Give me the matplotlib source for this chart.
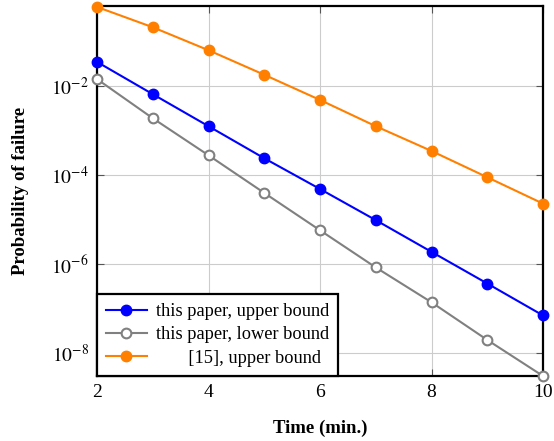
import numpy as np
import matplotlib
matplotlib.use('Agg')
import matplotlib.pyplot as plt

plt.rcParams['font.family'] = ['Liberation Serif', 'DejaVu Serif']
plt.rcParams['mathtext.fontset'] = 'stix'

# 데이터
time_min = [2, 3, 4, 5, 6, 7, 8, 9, 10]
upper_ours = [3.5e-2, 6.6e-3, 1.26e-3, 2.4e-4, 4.9e-5, 9.8e-6, 1.9e-6, 3.7e-7, 7.1e-8]
lower_ours = [1.44e-2, 1.9e-3, 2.8e-4, 4.0e-5, 5.8e-6, 8.5e-7, 1.4e-7, 2.0e-8, 3.1e-9]
upper_ref = [0.6, 0.21, 0.064, 0.018, 4.9e-3, 1.26e-3, 3.5e-4, 9.0e-5, 2.3e-5]

labels = ['this paper, upper bound', 'this paper, lower bound', '       [15], upper bound']

fig = plt.figure(figsize=(5.54, 4.41), dpi=100)
ax = fig.add_axes([97 / 554, 1 - 376 / 441, (543 - 97) / 554, (376 - 6) / 441])

ax.plot(time_min, upper_ours, color='#0000ff', lw=1.5, marker='o', ms=7.5,
        label=labels[0], clip_on=False, zorder=3)
ax.plot(time_min, lower_ours, color='#808080', lw=1.5, marker='o', ms=7,
        mfc='white', mew=1.5, label=labels[1], clip_on=False, zorder=3)
ax.plot(time_min, upper_ref, color='#ff8000', lw=1.5, marker='o', ms=7.5,
        label=labels[2], clip_on=False, zorder=3)

ax.set_yscale('log')
ax.set_xlim(2, 10)
ax.set_ylim(3.1e-9, 0.63)
ax.set_xticks([2, 4, 6, 8, 10])
ax.set_yticks([1e-2, 1e-4, 1e-6, 1e-8])
ax.yaxis.set_minor_locator(matplotlib.ticker.NullLocator())
ax.set_yticklabels([r'$10^{-2}$', r'$10^{-4}$', r'$10^{-6}$', r'$10^{-8}$'])
ax.tick_params(direction='in', top=True, right=True, labelsize=14, length=5,
               color='#555555', pad=6)
ax.grid(True, color='#cccccc', lw=0.8)
for s in ax.spines.values():
    s.set_linewidth(1.6)

ax.set_xlabel('Time (min.)', fontsize=13.5, fontweight='bold', labelpad=13)
ax.set_ylabel('Probability of failure', fontsize=13.5, fontweight='bold', labelpad=16)

leg = ax.legend(loc='lower left', fontsize=13.2, fancybox=False, framealpha=1,
                edgecolor='black', borderaxespad=0, handlelength=2.2,
                handletextpad=0.5, borderpad=0.5, labelspacing=0.35)
leg.get_frame().set_linewidth(1.6)

fig.savefig('out.png', dpi=100)
